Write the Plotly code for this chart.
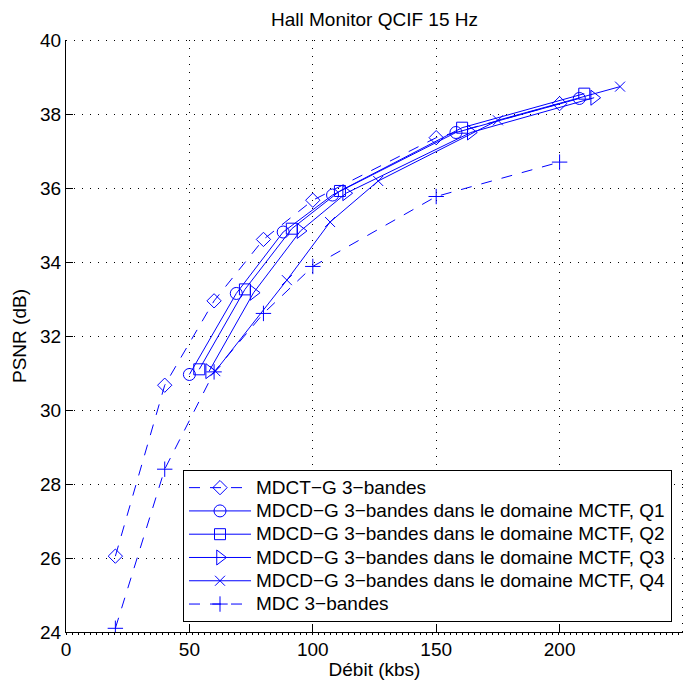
import plotly.graph_objects as go

# ---- data ----
mdct_x = [20, 40, 60, 80, 100, 150, 200]
mdct_y = [26.05, 30.67, 32.95, 34.61, 35.67, 37.36, 38.28]

q1_x = [50, 69, 88, 108, 158, 208]
q1_y = [30.96, 33.15, 34.81, 35.81, 37.50, 38.42]

q2_x = [54, 72.5, 91.5, 111, 160.5, 210]
q2_y = [31.10, 33.26, 34.90, 35.92, 37.63, 38.55]

q3_x = [58, 76, 95, 113.5, 164, 214]
q3_y = [31.05, 33.17, 34.84, 35.86, 37.50, 38.44]

q4_x = [60.5, 89.5, 107, 126.5, 175, 224.5]
q4_y = [31.05, 33.51, 35.08, 36.19, 37.83, 38.74]

mdc_x = [20, 40, 60, 80, 100, 150, 200]
mdc_y = [24.10, 28.40, 31.03, 32.61, 33.88, 35.77, 36.70]

names = [
    "MDCT−G 3−bandes",
    "MDCD−G 3−bandes dans le domaine MCTF, Q1",
    "MDCD−G 3−bandes dans le domaine MCTF, Q2",
    "MDCD−G 3−bandes dans le domaine MCTF, Q3",
    "MDCD−G 3−bandes dans le domaine MCTF, Q4",
    "MDC 3−bandes",
]

x_ticks = [0, 50, 100, 150, 200, 250]
y_ticks = [24, 26, 28, 30, 32, 34, 36, 38, 40]

BLUE = "#0000FF"
FONT = "Liberation Sans, Arial, Helvetica, sans-serif"
FS = 19
DASH = "11px,10px"

series = [
    (mdct_x, mdct_y, "diamond-open", 11, DASH),
    (q1_x, q1_y, "circle-open", 12, "solid"),
    (q2_x, q2_y, "square-open", 11, "solid"),
    (q3_x, q3_y, "triangle-right-open", 13, "solid"),
    (q4_x, q4_y, "x-thin-open", 10, "solid"),
    (mdc_x, mdc_y, "cross-thin-open", 11, DASH),
]

fig = go.Figure()
for (xs, ys, sym, sz, dash), nm in zip(series, names):
    fig.add_trace(go.Scatter(
        x=xs, y=ys, mode="lines+markers",
        name='<span style="font-size:%dpx">%s</span>' % (FS, nm),
        line=dict(color=BLUE, width=1, dash=dash),
        marker=dict(symbol=sym, size=sz, color=BLUE,
                    line=dict(color=BLUE, width=1)),
    ))

W, H = 697, 680
ML, MR, MT, MB = 66, 14, 40, 48
PW, PH = W - ML - MR, H - MT - MB

fig.update_layout(
    width=W, height=H,
    margin=dict(l=ML, r=MR, t=MT, b=MB, pad=0),
    paper_bgcolor="white",
    plot_bgcolor="rgba(0,0,0,0)",
    font=dict(family=FONT, size=FS, color="black"),
    title=dict(text="Hall Monitor QCIF 15 Hz", x=0.5, xref="paper",
               xanchor="center", y=1 - 19 / H, yref="container",
               yanchor="middle", font=dict(size=FS, family=FONT)),
    showlegend=True,
    legend=dict(
        x=(672 - ML) / PW, y=(632 - 622) / PH,
        xanchor="right", yanchor="bottom",
        bgcolor="white", bordercolor="black", borderwidth=1,
        font=dict(family=FONT, size=15.6, color="black"),
        itemwidth=62, tracegroupgap=0,
    ),
    xaxis=dict(
        range=[0, 250], tickvals=x_ticks, ticktext=[str(v) for v in x_ticks],
        showline=True, linecolor="black", linewidth=1, mirror=False,
        ticks="inside", ticklen=7, tickcolor="black", tickwidth=1,
        showgrid=True, gridcolor="black", gridwidth=1, griddash="1px,7px",
        zeroline=False,
        tickfont=dict(size=FS, family=FONT),
        title=dict(text="Débit (kbs)", font=dict(size=FS, family=FONT), standoff=4),
        automargin=False,
    ),
    yaxis=dict(
        range=[24, 40], tickvals=y_ticks, ticktext=[str(v) for v in y_ticks],
        showline=True, linecolor="black", linewidth=1, mirror=False,
        ticks="inside", ticklen=7, tickcolor="black", tickwidth=1,
        showgrid=True, gridcolor="black", gridwidth=1, griddash="1px,7px",
        zeroline=False,
        tickfont=dict(size=FS, family=FONT),
        title=dict(text="PSNR (dB)", font=dict(size=FS, family=FONT), standoff=8),
        automargin=False,
    ),
    shapes=[
        dict(type="line", xref="paper", yref="paper", x0=0, x1=1,
             y0=1 - 0.5 / PH, y1=1 - 0.5 / PH,
             line=dict(color="black", width=1, dash="1px,7px"), layer="above"),
        dict(type="line", xref="paper", yref="paper", x0=1 - 0.5 / PW, x1=1 - 0.5 / PW,
             y0=0, y1=1,
             line=dict(color="black", width=1, dash="1px,7px"), layer="above"),
        dict(type="line", xref="paper", yref="paper", x0=0, x1=1,
             y0=-2 / PH, y1=-2 / PH,
             line=dict(color="black", width=2, dash="1px,5px"), layer="above"),
    ],
)

fig.write_html(
    "out.html",
    config={"displayModeBar": False},
    post_script="document.body.style.margin='0';document.body.style.overflow='hidden';",
)
